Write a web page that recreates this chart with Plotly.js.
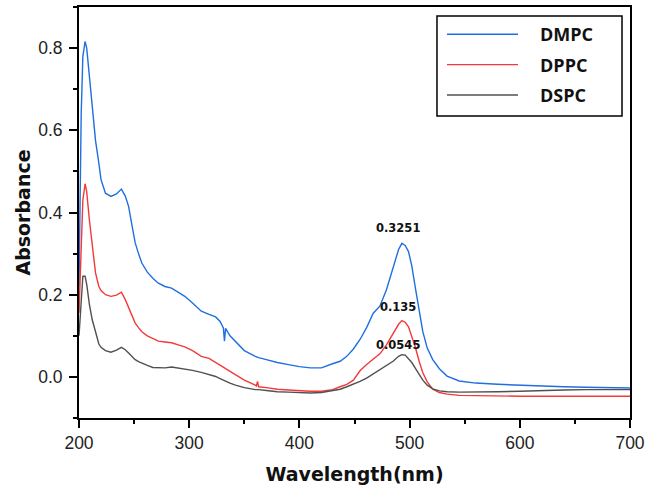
<!DOCTYPE html>
<html>
<head>
<meta charset="utf-8">
<script src="https://cdn.plot.ly/plotly-3.0.1.min.js"></script>
<style>html,body{margin:0;padding:0;background:#fff;}#chart{width:647px;height:488px;}</style>
</head>
<body>
<div id="chart"></div>
<script>
// Wavelength grid (nm)
const wavelength = [200, 201, 202, 203.5, 205.5, 207, 209.5, 212, 215, 218, 220, 224, 229, 234, 238.5, 242, 245, 248, 251, 254, 257, 262, 267, 272, 278, 284, 290, 296, 303, 311, 318, 324, 328, 331, 332, 333, 337, 342, 350, 360, 361, 362, 363, 370, 380, 390, 400, 410, 420, 430, 437, 443, 449, 455, 461, 467, 473, 479, 485, 490, 493, 496, 499, 502, 505, 509, 512, 516, 521, 527, 534, 545, 560, 580, 600, 620, 640, 660, 680, 700];

const dmpc = [0.22, 0.45, 0.64, 0.78, 0.816, 0.80, 0.73, 0.66, 0.575, 0.52, 0.48, 0.447, 0.439, 0.445, 0.457, 0.44, 0.415, 0.37, 0.326, 0.30, 0.277, 0.255, 0.24, 0.228, 0.22, 0.216, 0.206, 0.196, 0.18, 0.16, 0.152, 0.146, 0.135, 0.119, 0.087, 0.118, 0.10, 0.086, 0.064, 0.05, 0.049, 0.048, 0.047, 0.042, 0.035, 0.03, 0.025, 0.022, 0.022, 0.032, 0.038, 0.05, 0.068, 0.091, 0.12, 0.155, 0.172, 0.212, 0.265, 0.31, 0.325, 0.32, 0.305, 0.27, 0.22, 0.16, 0.11, 0.07, 0.042, 0.02, 0.002, -0.01, -0.015, -0.018, -0.02, -0.023, -0.024, -0.025, -0.026, -0.027];

const dppc = [0.156, 0.25, 0.33, 0.43, 0.47, 0.45, 0.38, 0.32, 0.253, 0.22, 0.21, 0.2, 0.196, 0.199, 0.206, 0.188, 0.17, 0.15, 0.131, 0.12, 0.11, 0.1, 0.093, 0.087, 0.085, 0.083, 0.078, 0.073, 0.064, 0.05, 0.045, 0.036, 0.028, 0.024, 0.022, 0.02, 0.013, 0.005, -0.008, -0.02, -0.022, -0.011, -0.024, -0.026, -0.03, -0.032, -0.034, -0.035, -0.035, -0.031, -0.024, -0.018, -0.008, 0.015, 0.03, 0.043, 0.056, 0.078, 0.105, 0.128, 0.137, 0.133, 0.122, 0.1, 0.074, 0.035, 0.01, -0.012, -0.03, -0.038, -0.042, -0.045, -0.046, -0.046, -0.047, -0.047, -0.047, -0.047, -0.047, -0.047];

const dspc = [0.10, 0.15, 0.2, 0.245, 0.245, 0.225, 0.175, 0.139, 0.11, 0.08, 0.072, 0.064, 0.06, 0.065, 0.072, 0.066, 0.058, 0.05, 0.042, 0.037, 0.033, 0.028, 0.023, 0.022, 0.022, 0.024, 0.022, 0.019, 0.016, 0.011, 0.006, 0.001, -0.004, -0.008, -0.009, -0.01, -0.015, -0.02, -0.026, -0.031, -0.031, -0.031, -0.031, -0.033, -0.036, -0.037, -0.038, -0.039, -0.038, -0.033, -0.03, -0.024, -0.018, -0.011, -0.003, 0.007, 0.017, 0.026, 0.038, 0.05, 0.054, 0.053, 0.045, 0.035, 0.022, 0.004, -0.008, -0.02, -0.029, -0.034, -0.036, -0.037, -0.037, -0.036, -0.035, -0.033, -0.032, -0.031, -0.031, -0.031];

const seriesNames = ['DMPC', 'DPPC', 'DSPC'];
const peakWavelength = [493, 493, 493];
const peakValues = [0.3251, 0.135, 0.0545];
const peakLabels = ['0.3251', '0.135', '0.0545'];

const colors = ['#1f6fe0', '#f23a3a', '#505050'];
const labelShift = [15, 14, 10];
const NB = '\u00a0\u00a0\u00a0\u2009';

const series = [dmpc, dppc, dspc];
const traces = series.map((y, i) => ({
  x: wavelength, y: y, type: 'scatter', mode: 'lines',
  name: NB + seriesNames[i], legendgroup: 'g' + i,
  line: {color: colors[i], width: 1.4}
}));

const annotations = peakLabels.map((t, i) => ({
  x: peakWavelength[i], y: peakValues[i], xref: 'x', yref: 'y',
  text: t, showarrow: false, xshift: -4, yshift: labelShift[i],
  font: {family: 'DejaVu Sans, sans-serif', size: 11.5, weight: 'bold', color: '#111'}
}));

const axisCommon = {
  showline: true, linecolor: '#000', linewidth: 2, mirror: true,
  ticks: 'outside', ticklen: 8, tickwidth: 2, tickcolor: '#000',
  showgrid: false, zeroline: false,
  tickfont: {family: 'Liberation Sans, Arial, sans-serif', size: 17.5, color: '#222'}
};

const titleFont = {family: 'DejaVu Sans, sans-serif', size: 19, weight: 'bold', color: '#111'};

const layout = {
  width: 647, height: 488,
  margin: {l: 79, r: 17, t: 7, b: 70},
  paper_bgcolor: '#fff', plot_bgcolor: '#fff',
  showlegend: true,
  xaxis: Object.assign({}, axisCommon, {
    range: [200, 700], dtick: 100, tick0: 200,
    minor: {dtick: 50, ticklen: 4, tickwidth: 2, tickcolor: '#000', ticks: 'outside'},
    title: {text: 'Wavelength(nm)', font: titleFont, standoff: 16}
  }),
  yaxis: Object.assign({}, axisCommon, {
    range: [-0.1, 0.9], dtick: 0.2, tick0: 0, tickformat: '.1f', ticklabelstandoff: 3,
    minor: {dtick: 0.1, ticklen: 4, tickwidth: 2, tickcolor: '#000', ticks: 'outside'},
    title: {text: 'Absorbance', font: titleFont}
  }),
  legend: {
    x: 0.6588, y: 0.978, xanchor: 'left', yanchor: 'top',
    borderwidth: 0, bgcolor: 'rgba(0,0,0,0)',
    font: {family: 'Open Sans, Noto Sans, sans-serif', size: 18, weight: 'bold', color: '#111'},
    itemwidth: 71, tracegroupgap: 4, traceorder: 'grouped'
  },
  shapes: [{
    type: 'rect', xref: 'paper', yref: 'paper',
    x0: 0.6497, x1: 0.9855, y0: 0.7348, y1: 0.978,
    line: {color: '#000', width: 1.5}, fillcolor: 'rgba(0,0,0,0)'
  }],
  annotations: annotations
};

Plotly.newPlot('chart', traces, layout, {displayModeBar: false, staticPlot: true});
</script>
</body>
</html>
